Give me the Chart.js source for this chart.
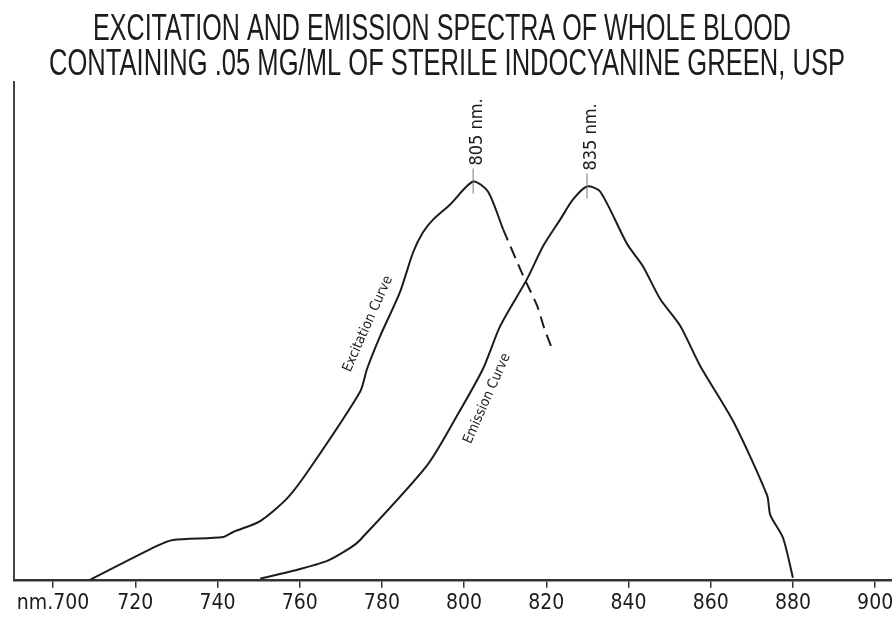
<!DOCTYPE html>
<html lang="en">
<head>
    <meta charset="UTF-8">
    <title>Excitation and emission spectra</title>
    <script src="https://cdn.jsdelivr.net/npm/chart.js"></script>
    <style>
        body { margin: 0; background: #fff; }
        canvas { display: block; }
    </style>
</head>
<body>
    <canvas id="spectraChart" width="892" height="623"></canvas>
    <script>
        // values (wavelength in nm, relative intensity)
        const excitationNm = [709, 725.3, 729.2, 741.4, 743.8, 750.4, 757, 762.5, 774.7, 776.4, 779.6, 784.4, 787.6, 790, 792.5, 796.6, 802.2, 805.8, 809.5];
        const excitationVal = [0, 6.8, 8, 8.6, 9.6, 11.8, 16.4, 22.4, 37.8, 42.4, 49, 57.8, 65.8, 69.8, 72.4, 75.4, 80, 78, 70.4];
        const excitationTailNm = [809.5, 814.4, 817.8, 819.5, 821.7];
        const excitationTailVal = [70.4, 61, 55, 50.5, 45.8];
        const emissionNm = [750.4, 758.4, 766.7, 772.3, 774.7, 791, 798.3, 804.6, 808.8, 815.3, 819.2, 823.4, 826.5, 829.9, 833.1, 839.7, 843.5, 847.7, 852.6, 857.4, 865.5, 873.7, 874.5, 877.6, 880];
        const emissionVal = [0.2, 1.8, 3.8, 6.4, 8, 23, 33, 42.4, 51, 60.4, 67, 72.4, 76.4, 79, 78, 67.4, 63, 56.4, 51, 43, 31.8, 17, 13, 8.4, 0.4];
        const tickValues = [700, 720, 740, 760, 780, 800, 820, 840, 860, 880, 900];
        const peakNm = [802.2, 829.9];
        const peakVal = [80, 79];
        const peakLabels = ['805 nm.', '835 nm.'];
        const titleLines = ['EXCITATION AND EMISSION SPECTRA OF WHOLE BLOOD', 'CONTAINING .05 MG/ML OF STERILE INDOCYANINE GREEN, USP'];

        const narrow = '"DejaVu Sans Condensed", "Liberation Sans", sans-serif';
        const plain = '"Liberation Sans", Arial, sans-serif';
        const ink = '#1c1c1c';

        function toPoints(xs, ys) {
            return xs.map((x, i) => ({ x: x, y: ys[i] }));
        }

        // title, peak marks and curve names
        const decorations = {
            id: 'decorations',
            afterDraw(chart) {
                const ctx = chart.ctx;
                const xs = chart.scales.x;
                const ys = chart.scales.y;
                ctx.save();
                ctx.fillStyle = ink;
                ctx.textAlign = 'center';
                ctx.textBaseline = 'alphabetic';
                // squeeze a plain sans into the narrow width of the original title
                ctx.font = '36px ' + plain;
                ctx.fillText(titleLines[0], 442, 40, 698);
                ctx.fillText(titleLines[1], 447, 75, 796);

                peakNm.forEach((nm, i) => {
                    const px = xs.getPixelForValue(nm);
                    const py = ys.getPixelForValue(peakVal[i]);
                    ctx.strokeStyle = '#777';
                    ctx.lineWidth = 1;
                    ctx.beginPath();
                    ctx.moveTo(px, py - 13);
                    ctx.lineTo(px, py + 12);
                    ctx.stroke();
                    ctx.save();
                    ctx.translate(px + 4, py - 16);
                    ctx.rotate(-Math.PI / 2);
                    ctx.textAlign = 'left';
                    ctx.textBaseline = 'middle';
                    ctx.font = '18px ' + narrow;
                    ctx.fillText(peakLabels[i], 0, 0);
                    ctx.restore();
                });

                const curveNames = [
                    { text: 'Excitation Curve', nm: 776.6, val: 51.4 },
                    { text: 'Emission Curve', nm: 805.6, val: 36.4 }
                ];
                curveNames.forEach(c => {
                    ctx.save();
                    ctx.translate(xs.getPixelForValue(c.nm), ys.getPixelForValue(c.val));
                    ctx.rotate(-66 * Math.PI / 180);
                    ctx.textAlign = 'center';
                    ctx.textBaseline = 'middle';
                    ctx.font = '14px ' + narrow;
                    ctx.fillText(c.text, 0, 0);
                    ctx.restore();
                });
                ctx.restore();
            }
        };

        new Chart(document.getElementById('spectraChart'), {
            type: 'line',
            data: {
                datasets: [
                    {
                        label: 'Excitation Curve',
                        data: toPoints(excitationNm, excitationVal),
                        borderColor: ink,
                        borderWidth: 2,
                        pointRadius: 0,
                        tension: 0.25
                    },
                    {
                        label: 'Excitation Curve (dashed)',
                        data: toPoints(excitationTailNm, excitationTailVal),
                        borderColor: ink,
                        borderWidth: 2,
                        borderDash: [12, 7],
                        pointRadius: 0,
                        tension: 0.2
                    },
                    {
                        label: 'Emission Curve',
                        data: toPoints(emissionNm, emissionVal),
                        borderColor: ink,
                        borderWidth: 2,
                        pointRadius: 0,
                        tension: 0.25
                    }
                ]
            },
            options: {
                responsive: false,
                animation: false,
                layout: { padding: { top: 82, left: 14, right: 0, bottom: 4 } },
                plugins: {
                    legend: { display: false },
                    tooltip: { enabled: false }
                },
                scales: {
                    x: {
                        type: 'linear',
                        min: 690.5,
                        max: 904.1,
                        afterBuildTicks: axis => {
                            axis.ticks = tickValues.map(v => ({ value: v }));
                        },
                        afterFit: axis => {
                            axis.paddingLeft = 0;
                            axis.paddingRight = 0;
                        },
                        grid: {
                            drawOnChartArea: false,
                            drawTicks: true,
                            tickLength: 8,
                            color: '#333',
                            lineWidth: 1.5
                        },
                        border: { display: true, color: '#333', width: 2.5 },
                        ticks: {
                            autoSkip: false,
                            maxRotation: 0,
                            padding: 3,
                            color: ink,
                            font: { family: narrow, size: 21 },
                            callback: v => (v === 700 ? 'nm.700' : String(v))
                        }
                    },
                    y: {
                        type: 'linear',
                        min: 0,
                        max: 100,
                        afterFit: axis => {
                            axis.width = 0;
                        },
                        grid: { display: false },
                        border: { display: true, color: '#444', width: 2 },
                        ticks: { display: false }
                    }
                }
            },
            plugins: [decorations]
        });
    </script>
</body>
</html>
